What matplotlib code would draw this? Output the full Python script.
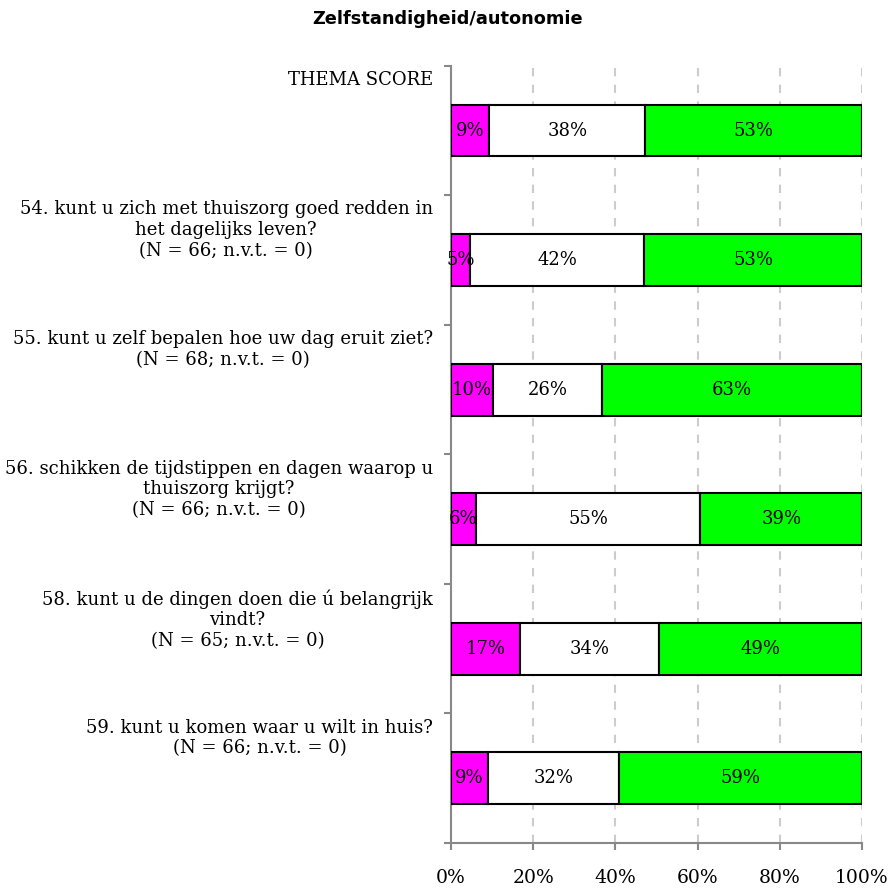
import matplotlib

matplotlib.use("Agg")

import matplotlib.pyplot as plt
import matplotlib.transforms as mtransforms

title = "Zelfstandigheid/autonomie"

questions = [
    "THEMA SCORE",
    "54. kunt u zich met thuiszorg goed redden in\nhet dagelijks leven?\n(N = 66; n.v.t. = 0)",
    "55. kunt u zelf bepalen hoe uw dag eruit ziet?\n(N = 68; n.v.t. = 0)",
    "56. schikken de tijdstippen en dagen waarop u\nthuiszorg krijgt?\n(N = 66; n.v.t. = 0)",
    "58. kunt u de dingen doen die ú belangrijk\nvindt?\n(N = 65; n.v.t. = 0)",
    "59. kunt u komen waar u wilt in huis?\n(N = 66; n.v.t. = 0)",
]

# percentages per answer group (negative / neutral / positive)
negative = [9.3, 4.6, 10.3, 6.1, 16.9, 9.1]
neutral = [38.0, 42.4, 26.5, 54.6, 33.8, 31.8]
positive = [52.7, 53.0, 63.2, 39.3, 49.2, 59.1]

series = [negative, neutral, positive]
colors = ["#ff00ff", "#ffffff", "#00ff00"]

xticks = [0, 20, 40, 60, 80, 100]
xtick_labels = ["0%", "20%", "40%", "60%", "80%", "100%"]

serif = "DejaVu Serif"
axis_gray = "#888888"

fig = plt.figure(figsize=(8.96, 8.91), dpi=100)
ax = fig.add_axes([0.5033, 0.0539, 0.4587, 0.8723])

ypos = list(range(len(questions)))
left = [0.0] * len(questions)
for values, color in zip(series, colors):
    ax.barh(ypos, values, left=left, height=0.4, color=color,
            edgecolor="black", linewidth=1.5, zorder=3)
    for y, l, v in zip(ypos, left, values):
        ax.text(l + v / 2, y, f"{v:.0f}%", ha="center", va="center",
                family=serif, fontsize=13, zorder=4)
    left = [a + b for a, b in zip(left, values)]

ax.set_xlim(0, 100)
ax.set_ylim(len(questions) - 0.5, -0.5)

ax.set_xticks(xticks)
ax.set_xticklabels(xtick_labels, family=serif, fontsize=13.5)
ax.set_yticks([i - 0.5 for i in range(len(questions) + 1)])
ax.set_yticklabels([])
ax.tick_params(axis="both", direction="out", length=5, color=axis_gray, width=1.5)
ax.tick_params(axis="x", pad=14)

for x in xticks[1:]:
    ax.axvline(x, color="#cccccc", linestyle=(0, (4, 4)), linewidth=1.5, zorder=1)

for side in ["top", "right"]:
    ax.spines[side].set_visible(False)
for side in ["left", "bottom"]:
    ax.spines[side].set_color(axis_gray)
    ax.spines[side].set_linewidth(1.5)

trans = mtransforms.blended_transform_factory(ax.transAxes, ax.transData)
for i, q in enumerate(questions):
    ax.text(-0.044, i - 0.5 + 0.04, q, transform=trans, ha="right", va="top",
            multialignment="center", family=serif, fontsize=13, linespacing=1.2)

fig.text(0.5, 0.979, title, ha="center", va="center", fontsize=12.8, fontweight="bold")

fig.savefig("out.png", dpi=100)
plt.close(fig)
